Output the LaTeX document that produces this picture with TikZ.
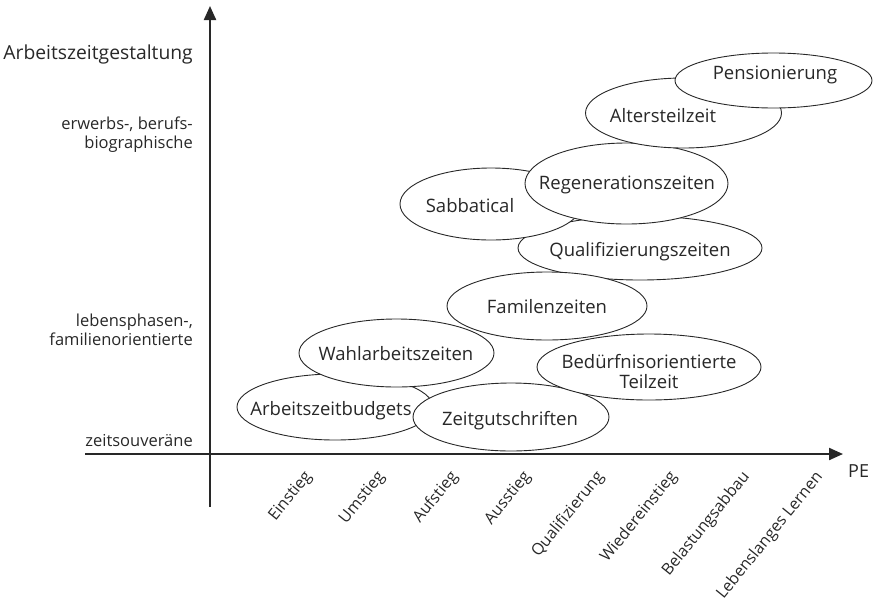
\documentclass[tikz,border=0pt]{standalone}
\usepackage{fontspec}
\setmainfont{Open Sans}
\usetikzlibrary{shapes.geometric,arrows.meta}
\definecolor{ink}{RGB}{40,40,40}
\begin{document}
\begin{tikzpicture}[x=1pt,y=-1pt,
  bub/.style={ellipse, draw=ink, line width=0.9pt, fill=white, inner sep=0pt},
  lbl/.style={anchor=base, inner sep=0pt, text=ink, font=\fontsize{18.5}{19}\selectfont, align=center},
  axisline/.style={line width=2.2pt, draw=ink, -{Triangle[length=14pt,width=12pt]}},
  tick/.style={rotate=51, anchor=east, inner sep=0pt, text=ink, font=\fontsize{16}{17}\selectfont},
  side/.style={anchor=base east, align=right, inner sep=0pt, text=ink, font=\fontsize{16.5}{19}\selectfont}]
\useasboundingbox (0,0) rectangle (874,603);

% axes
\coordinate (ybot) at (210,507);
\coordinate (ytop) at (210,6);
\coordinate (xleft) at (85,454);
\coordinate (xright) at (843,454);
\draw[axisline] (ybot) -- (ytop);
\draw[axisline] (xleft) -- (xright);

% axis labels
\node[side, font=\fontsize{19.3}{22}\selectfont] (title) at (193,59) {Arbeitszeitgestaltung};
\node[side] (erw) at (193,148) {erwerbs-, berufs-\\biographische};
\node[side] (leb) at (193,345) {lebensphasen-,\\familienorientierte};
\node[side] (zeit) at (193,446) {zeitsouveräne};
\node[anchor=base west, inner sep=0pt, text=ink, font=\fontsize{18}{20}\selectfont] (pe) at (848,477) {PE};

% ticks
\node[tick] (t1) at (309,474) {Einstieg};
\node[tick] (t2) at (382,474) {Umstieg};
\node[tick] (t3) at (455,474) {Aufstieg};
\node[tick] (t4) at (528,474) {Ausstieg};
\node[tick] (t5) at (601,474) {Qualifizierung};
\node[tick] (t6) at (674,474) {Wiedereinstieg};
\node[tick] (t7) at (747,474) {Belastungsabbau};
\node[tick] (t8) at (820,474) {Lebenslanges Lernen};

% bubbles (bottom to top)
\node[bub, minimum width=196, minimum height=66] (arb) at (335,407) {};
\node[lbl] (arbt) at (331,415) {Arbeitszeitbudgets};
\node[bub, minimum width=196, minimum height=68] (zeitg) at (511,417) {};
\node[lbl] (zeitgt) at (510,425) {Zeitgutschriften};
\node[bub, minimum width=195, minimum height=68] (wahl) at (396.5,353) {};
\node[lbl] (wahlt) at (396,360) {Wahlarbeitszeiten};
\node[bub, minimum width=224, minimum height=66] (bed) at (649,367) {};
\node[lbl] (bedt1) at (649,368) {Bedürfnisorientierte};
\node[lbl] (bedt2) at (649,388) {Teilzeit};
\node[bub, minimum width=244, minimum height=64] (qual) at (640,248) {};
\node[lbl] (qualt) at (640,256) {Qualifizierungszeiten};
\node[bub, minimum width=200, minimum height=68] (fam) at (547,306) {};
\node[lbl] (famt) at (547,313) {Familenzeiten};
\node[bub, minimum width=182, minimum height=72] (sab) at (491,204) {};
\node[lbl] (sabt) at (470,212) {Sabbatical};
\node[bub, minimum width=203, minimum height=81] (reg) at (626.5,183.5) {};
\node[lbl] (regt) at (627,189.5) {Regenerationszeiten};
\node[bub, minimum width=196, minimum height=70] (alt) at (683.5,113) {};
\node[lbl] (altt) at (663,122.5) {Altersteilzeit};
\node[bub, minimum width=197, minimum height=55] (pen) at (773.5,80.5) {};
\node[lbl] (pent) at (775,79.5) {Pensionierung};
\end{tikzpicture}
\end{document}
